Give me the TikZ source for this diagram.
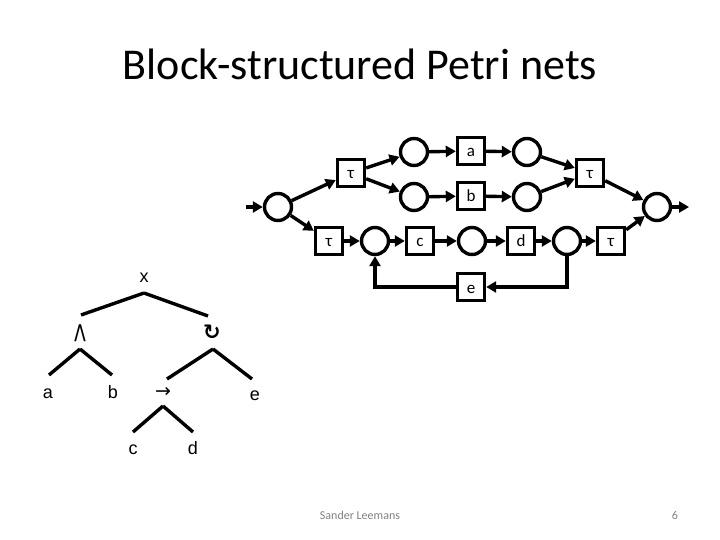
\documentclass[tikz,border=0pt]{standalone}
\usepackage{fontspec}
\setmainfont{Carlito}[Ligatures=NoCommon]
\newfontfamily\symfont{DejaVu Sans}
\newfontfamily\treefont{Liberation Sans}
\usetikzlibrary{arrows.meta,calc}
\begin{document}
\begin{tikzpicture}[x=1bp,y=-1bp,
  every node/.style={font=\fontsize{17bp}{20bp}\selectfont},
  place/.style={circle,draw,line width=3.4bp,minimum size=27bp,inner sep=0pt},
  trans/.style={rectangle,draw,line width=3.4bp,minimum size=27bp,inner sep=0pt,text height=12bp,text depth=0bp},
  arc/.style={line width=3.4bp,-{Triangle[length=10bp,width=11bp]}},
  tree/.style={line width=3.4bp},
  tlab/.style={inner sep=0pt,font=\treefont\fontsize{18bp}{20bp}\selectfont},
]
\useasboundingbox (0,0) rectangle (720,540);
\node[font=\fontsize{44bp}{50bp}\selectfont,anchor=base] (title) at (360,80) {Block-structured Petr\kern0pt i nets};

% Petri net
\coordinate (in) at (246,207);
\node[place] (p0) at (278,207) {};
\node[trans] (t1) at (351,173) {τ};
\node[place] (pa1) at (414,152) {};
\node[trans] (ta) at (471,151) {a};
\node[place] (pa2) at (527,152) {};
\node[place] (pb1) at (414,197) {};
\node[trans] (tb) at (471,196) {b};
\node[place] (pb2) at (527,197) {};
\node[trans] (t2) at (590,173) {τ};
\node[place] (pe) at (657,207) {};
\coordinate (out) at (689,207);
\node[trans] (t3) at (329,241) {τ};
\node[place] (pc1) at (375,241) {};
\node[trans] (tc) at (420,241) {c};
\node[place] (pc2) at (472,241) {};
\node[trans] (td) at (521,241) {d};
\node[place] (pc3) at (567,241) {};
\node[trans] (t4) at (611,241) {τ};
\node[trans] (te) at (471,287) {e};

\draw[arc] (in) -- (p0);
\draw[arc] (p0) -- (t1);
\draw[arc] (t1) -- (pa1);
\draw[arc] (t1) -- (pb1);
\draw[arc] (pa1) -- (ta);
\draw[arc] (ta) -- (pa2);
\draw[arc] (pb1) -- (tb);
\draw[arc] (tb) -- (pb2);
\draw[arc] (pa2) -- (t2);
\draw[arc] (pb2) -- (t2);
\draw[arc] (t2) -- (pe);
\draw[arc] (pe) -- (out);
\draw[arc] (p0) -- (t3);
\draw[arc] (t3) -- (pc1);
\draw[arc] (pc1) -- (tc);
\draw[arc] (tc) -- (pc2);
\draw[arc] (pc2) -- (td);
\draw[arc] (td) -- (pc3);
\draw[arc] (pc3) -- (t4);
\draw[arc] (t4) -- (pe);
\draw[arc] (pc3.south) |- (te.east);
\draw[arc] (te.west) -| (pc1.south);

% process tree
\node[tlab,anchor=base] (x) at (144,283) {x};
\node[tlab,font=\treefont\fontsize{23bp}{26bp}\selectfont] (and) at (80,333) {/\kern-1.5bp\textbackslash};
\node[tlab,font=\symfont\bfseries\fontsize{21bp}{24bp}\selectfont] (loop) at (212,332) {↻};
\node[tlab,anchor=base] (a) at (48,398) {a};
\node[tlab,anchor=base] (b) at (113,398) {b};
\node[tlab,font=\symfont\fontsize{19bp}{22bp}\selectfont] (seq) at (163,392) {→};
\node[tlab,anchor=base] (e) at (255,400) {e};
\node[tlab,anchor=base] (c) at (133,454) {c};
\node[tlab,anchor=base] (d) at (193,454) {d};

\draw[tree] ($(x.base)+(0,10)$) -- ($(and)+(1,-18)$);
\draw[tree] ($(x.base)+(0,10)$) -- ($(loop)+(-4,-16)$);
\draw[tree] ($(and)+(0,16)$) -- ($(a.base)+(1,-23)$);
\draw[tree] ($(and)+(0,16)$) -- ($(b.base)+(-1,-23)$);
\draw[tree] ($(loop)+(1,17)$) -- ($(seq)+(4,-13)$);
\draw[tree] ($(loop)+(1,17)$) -- ($(e.base)+(-3,-21)$);
\draw[tree] ($(seq)+(0,14)$) -- ($(c.base)+(0,-22)$);
\draw[tree] ($(seq)+(0,14)$) -- ($(d.base)+(0,-22)$);

% footer
\node[font=\fontsize{12bp}{14bp}\selectfont,text=black!50] (author) at (360,515) {Sander Leemans};
\node[font=\fontsize{12bp}{14bp}\selectfont,text=black!50] (page) at (675,515) {6};
\end{tikzpicture}
\end{document}
